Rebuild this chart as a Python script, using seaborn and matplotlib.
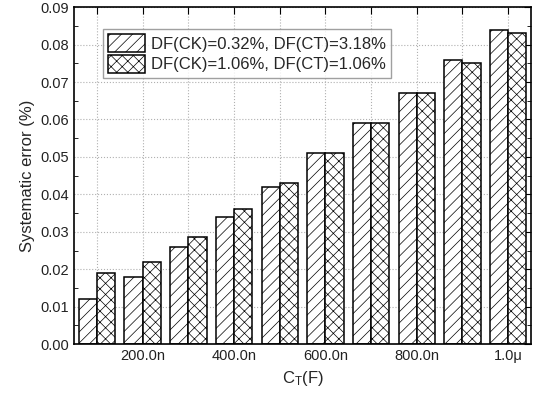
import numpy as np
import pandas as pd
import matplotlib
matplotlib.use("Agg")
import matplotlib.pyplot as plt
import seaborn as sns
from matplotlib.ticker import MultipleLocator

categories = ["100.0n", "200.0n", "300.0n", "400.0n", "500.0n",
              "600.0n", "700.0n", "800.0n", "900.0n", "1.0\u03bc"]
series_names = ["DF(CK)=0.32%, DF(CT)=3.18%", "DF(CK)=1.06%, DF(CT)=1.06%"]
err_a = [0.012, 0.018, 0.026, 0.034, 0.042, 0.051, 0.059, 0.067, 0.076, 0.084]
err_b = [0.019, 0.022, 0.0285, 0.036, 0.043, 0.051, 0.059, 0.067, 0.075, 0.083]
shown_labels = ["", "200.0n", "", "400.0n", "", "600.0n", "", "800.0n", "", "1.0\u03bc"]

df = pd.DataFrame({
    "cap": categories * 2,
    "err": err_a + err_b,
    "series": [series_names[0]] * len(categories) + [series_names[1]] * len(categories),
})

sns.set_style("white")
plt.rcParams["font.family"] = ["Liberation Sans", "DejaVu Sans"]
plt.rcParams["hatch.linewidth"] = 0.5

fig, ax = plt.subplots(figsize=(5.38, 3.96), dpi=100)
sns.barplot(data=df, x="cap", y="err", hue="series", order=categories,
            hue_order=series_names, palette=["white", "white"],
            edgecolor="black", linewidth=1.1, width=0.8, ax=ax, errorbar=None)

hatches = ["///", "xxx"]
for cont, h in zip(ax.containers, hatches):
    for bar in cont:
        bar.set_hatch(h)
        bar.set_facecolor("white")

# legend patches need the hatch too
leg = ax.legend(loc="upper left", bbox_to_anchor=(0.045, 0.96), fontsize=12,
                frameon=True, fancybox=False, edgecolor="#888888",
                handlelength=2.2, handleheight=1.3, handletextpad=0.4,
                borderpad=0.3, labelspacing=0.15)
for p, h in zip(leg.get_patches(), hatches):
    p.set_hatch(h)
    p.set_facecolor("white")
    p.set_edgecolor("black")

ax.set_ylim(0, 0.09)
ax.set_xlim(-0.5, 9.5)
ax.yaxis.set_minor_locator(MultipleLocator(0.005))
ax.set_yticks(np.arange(0, 0.091, 0.01))
ax.set_yticklabels([f"{v:.2f}" for v in np.arange(0, 0.091, 0.01)])
ax.set_xticks(range(len(categories)))
ax.set_xticklabels(shown_labels)

ax.grid(True, which="major", linestyle=":", color="#b0b0b0", linewidth=0.8)
ax.set_axisbelow(True)

ax.tick_params(axis="both", which="both", direction="in", top=True, right=True,
               labelsize=10.5, labelcolor="#222222", color="black")
ax.tick_params(axis="both", which="major", length=5)
ax.tick_params(axis="y", which="minor", length=3, left=True, right=True)
for s in ax.spines.values():
    s.set_visible(True)
    s.set_color("black")
    s.set_linewidth(1.2)

ax.set_xlabel("$\\mathregular{C_T(F)}$", fontsize=12)
ax.set_ylabel("Systematic error (%)", fontsize=12)

fig.subplots_adjust(left=0.138, right=0.987, top=0.982, bottom=0.131)
fig.savefig("out.png", dpi=100)
